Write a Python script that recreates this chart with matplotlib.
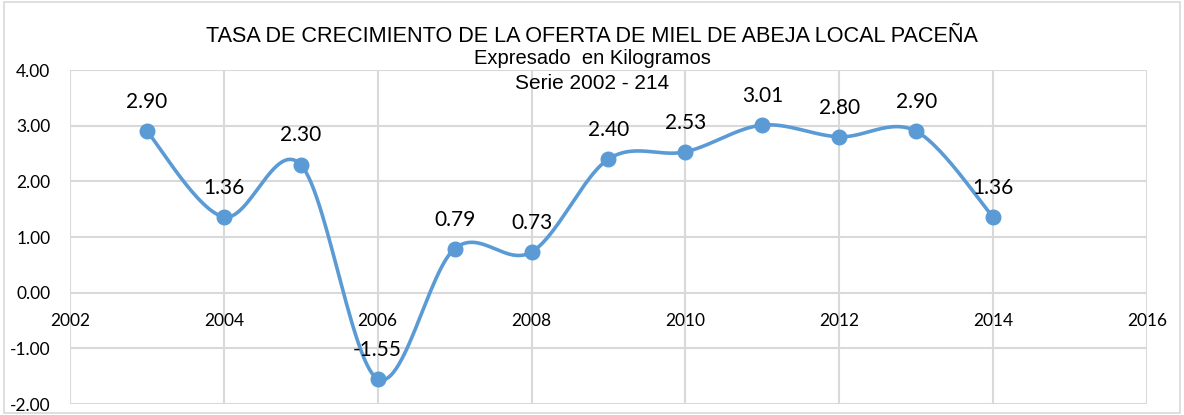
import numpy as np
import matplotlib
matplotlib.use("Agg")
from matplotlib import pyplot as plt
from matplotlib.patches import Rectangle

years = [2003, 2004, 2005, 2006, 2007, 2008, 2009, 2010, 2011, 2012, 2013, 2014]
rates = [2.90, 1.36, 2.30, -1.55, 0.79, 0.73, 2.40, 2.53, 3.01, 2.80, 2.90, 1.36]
labels = ["2.90", "1.36", "2.30", "-1.55", "0.79", "0.73", "2.40", "2.53",
          "3.01", "2.80", "2.90", "1.36"]
x_ticks = [2002, 2004, 2006, 2008, 2010, 2012, 2014, 2016]
y_ticks = [-2, -1, 0, 1, 2, 3, 4]

title1 = "TASA DE CRECIMIENTO DE LA OFERTA DE MIEL DE ABEJA LOCAL PACEÑA"
title2 = "Expresado  en Kilogramos"
title3 = "Serie 2002 - 214"

BLUE = "#5B9BD5"
GRID = "#D9D9D9"


def smooth(xs, ys, n=30):
    # Excel-style smoothed line: Bezier segments with Catmull-Rom control points
    xs = np.asarray(xs, float)
    ys = np.asarray(ys, float)
    px = np.concatenate([[xs[0]], xs, [xs[-1]]])
    py = np.concatenate([[ys[0]], ys, [ys[-1]]])
    out_x, out_y = [], []
    t = np.linspace(0, 1, n)
    for i in range(1, len(px) - 2):
        p0 = np.array([px[i], py[i]])
        p3 = np.array([px[i + 1], py[i + 1]])
        c1 = p0 + (p3 - np.array([px[i - 1], py[i - 1]])) / 6
        c2 = p3 - (np.array([px[i + 2], py[i + 2]]) - p0) / 6
        b = ((1 - t) ** 3)[:, None] * p0 + (3 * (1 - t) ** 2 * t)[:, None] * c1 \
            + (3 * (1 - t) * t ** 2)[:, None] * c2 + (t ** 3)[:, None] * p3
        out_x.extend(b[:, 0])
        out_y.extend(b[:, 1])
    return out_x, out_y


fig = plt.figure(figsize=(11.84, 4.15), dpi=100)
fig.patches.append(Rectangle((0.003, 0.005), 0.994, 0.99, transform=fig.transFigure,
                             fill=False, edgecolor=GRID, linewidth=1.2))

ax = fig.add_axes([0.0591, 0.0265, 0.9096, 0.8048])
ax.set_xlim(2002, 2016)
ax.set_ylim(-2, 4)
ax.set_xticks(x_ticks)
ax.set_yticks(y_ticks)
ax.set_yticklabels([f"{v:.2f}" for v in y_ticks])
ax.grid(True, color=GRID, linewidth=1.5)
ax.set_axisbelow(True)
for s in ["top", "right", "left"]:
    ax.spines[s].set_visible(False)
ax.spines["bottom"].set_position(("data", 0))
ax.spines["bottom"].set_visible(False)
ax.tick_params(axis="both", length=0, labelsize=12.5, colors="black")
ax.tick_params(axis="y", pad=14)
ax.tick_params(axis="x", pad=14.5)
for lab in ax.get_xticklabels() + ax.get_yticklabels():
    lab.set_fontfamily("Lato")

sx, sy = smooth(years, rates)
ax.plot(sx, sy, color=BLUE, linewidth=2.6, solid_capstyle="round", zorder=3)
ax.plot(years, rates, "o", color=BLUE, markersize=10.5, zorder=4)

for x, y, t in zip(years, rates, labels):
    ax.annotate(t, (x, y), xytext=(0, 21), textcoords="offset points",
                ha="center", va="center", fontsize=15, family="Lato", zorder=5)

fig.text(0.5, 0.912, title1, ha="center", va="center", fontsize=15.6,
         family="Liberation Sans")
fig.text(0.5, 0.858, title2, ha="center", va="center", fontsize=14.5,
         family="Liberation Sans")
fig.text(0.5, 0.798, title3, ha="center", va="center", fontsize=15,
         family="Liberation Sans")

fig.savefig("out.png", dpi=100)
